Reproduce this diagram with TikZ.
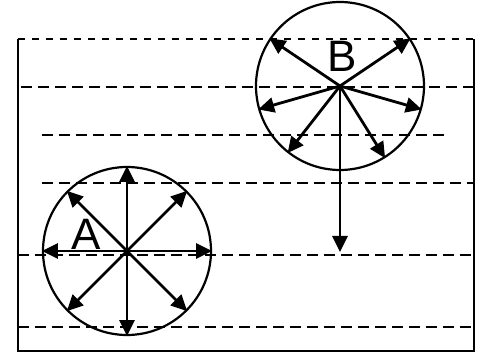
\documentclass[tikz,border=0pt]{standalone}
\usepackage{fontspec}
\setmainfont{Liberation Sans}
\usetikzlibrary{arrows.meta}

\begin{document}
\begin{tikzpicture}[
  x=1pt, y=-1pt,
  every node/.style={font=\fontsize{44}{44}\selectfont},
  frame/.style={line width=2.8pt},
  fine/.style={line width=2.4pt, dash pattern=on 7pt off 7pt},
  coarse/.style={line width=2.4pt, dash pattern=on 11pt off 6pt},
  ball/.style={circle, draw, line width=2.2pt, minimum size=168pt, inner sep=0pt},
  arrow/.style={-{Triangle[length=16pt, width=15pt]}, line width=2.8pt},
  letter/.style={inner sep=0pt}
]
\useasboundingbox (0,0) rectangle (483,353);

% corners of the box
\coordinate (tl) at (18,39);
\coordinate (tr) at (474,39);
\coordinate (bl) at (18,351);
\coordinate (br) at (474,351);

% the box, open at the top
\draw[frame] (tl) -- (bl) -- (br) -- (tr);
\draw[fine] (tl) -- (tr);

% the layers
\coordinate (l2a) at (21,87);   \coordinate (l2b) at (474,87);
\coordinate (l3a) at (42,135);  \coordinate (l3b) at (448,135);
\coordinate (l4a) at (42,183);  \coordinate (l4b) at (474,183);
\coordinate (l5a) at (18,255);  \coordinate (l5b) at (474,255);
\coordinate (l6a) at (18,327);  \coordinate (l6b) at (474,327);
\draw[coarse] (l2a) -- (l2b);
\draw[coarse] (l3a) -- (l3b);
\draw[coarse] (l4a) -- (l4b);
\draw[coarse] (l5a) -- (l5b);
\draw[coarse] (l6a) -- (l6b);

% the two spheres
\node[ball] (A) at (127,251) {};
\node[ball] (B) at (340,86) {};
\node[letter] (labA) at (86,234) {A};
\node[letter] (labB) at (342,56) {B};

% A pushes evenly
\foreach \a in {0,45,...,315}
  \draw[arrow] (A.center) -- (A.\a);

% B pushes unevenly, and far down
\foreach \a in {34,146,196,-16,232,302}
  \draw[arrow] (B.center) -- (B.\a);
\coordinate (Bend) at (340,252);
\draw[arrow] (B.center) -- (Bend);

\end{tikzpicture}
\end{document}
